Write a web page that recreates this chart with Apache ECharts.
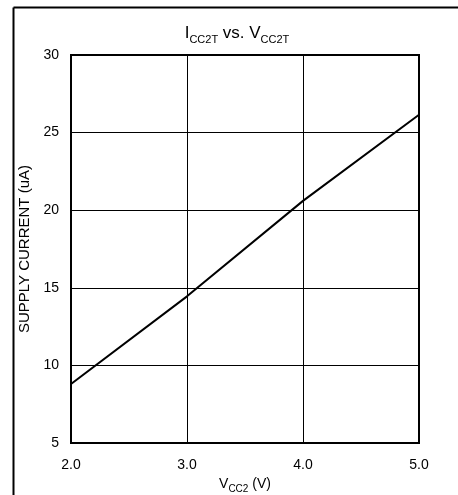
<!DOCTYPE html>
<html>
<head>
<meta charset="utf-8">
<script src="https://cdn.jsdelivr.net/npm/echarts@6/dist/echarts.min.js"></script>
<style>html,body{margin:0;padding:0;background:#fff}#c{width:458px;height:495px}</style>
</head>
<body>
<div id="c"></div>
<script>
var vcc = [2.0, 3.0, 4.0, 5.0];
var current = [8.8, 14.45, 20.6, 26.15];
var xTicks = [2.0, 3.0, 4.0, 5.0];
var yTicks = [5, 10, 15, 20, 25, 30];

var FONT = '"Liberation Sans Narrow", "Liberation Sans", Arial, sans-serif';
var chart = echarts.init(document.getElementById('c'), null, {renderer: 'canvas'});
chart.setOption({
  animation: false,
  backgroundColor: '#fff',
  title: {
    text: '{b|I}{s|CC2T}{b| vs. V}{s|CC2T}',
    left: 232, top: 19, textAlign: 'center',
    textStyle: {
      fontWeight: 'normal',
      rich: {
        b: {fontFamily: FONT, fontSize: 17, fontWeight: 'normal', color: '#000', verticalAlign: 'bottom', lineHeight: 18},
        s: {fontFamily: FONT, fontSize: 11, fontWeight: 'normal', color: '#000', verticalAlign: 'bottom', lineHeight: 14, padding: [0,0,-3,0]}
      }
    }
  },
  grid: {left: 71, top: 55, right: 39, bottom: 52, containLabel: false, outerBoundsMode: 'none'},
  xAxis: {
    type: 'value', min: xTicks[0], max: xTicks[xTicks.length-1], interval: 1,
    name: '{n|V}{s|CC2}{n| (V)}', nameLocation: 'middle', nameGap: 28,
    nameTextStyle: {rich: {
      n: {fontFamily: FONT, fontSize: 14, color: '#000', verticalAlign: 'bottom', lineHeight: 16},
      s: {fontFamily: FONT, fontSize: 10, color: '#000', verticalAlign: 'bottom', lineHeight: 13, padding: [0,0,-3,0]}
    }},
    axisLine: {show: true, lineStyle: {color: '#000', width: 2}},
    axisTick: {show: false},
    axisLabel: {fontFamily: FONT, fontSize: 14, color: '#000', margin: 15, formatter: function(v){return v.toFixed(1);}},
    splitLine: {show: true, lineStyle: {color: '#000', width: 1}}
  },
  yAxis: {
    type: 'value', min: yTicks[0], max: yTicks[yTicks.length-1], interval: 5,
    name: 'SUPPLY CURRENT (uA)', nameLocation: 'middle', nameGap: 36,
    nameTextStyle: {fontFamily: FONT, fontSize: 15, color: '#000'},
    axisLine: {show: true, lineStyle: {color: '#000', width: 2}},
    axisTick: {show: false},
    axisLabel: {fontFamily: FONT, fontSize: 14, color: '#000', margin: 12},
    splitLine: {show: true, lineStyle: {color: '#000', width: 1}}
  },
  series: [{
    type: 'line',
    data: vcc.map(function(v, i){return [v, current[i]];}),
    showSymbol: false, symbol: 'none',
    lineStyle: {color: '#000', width: 2},
    clip: true
  }]
});
var g = chart.getModel().getComponent('grid').coordinateSystem.getRect();
chart.setOption({graphic: [
  {type: 'line', shape: {x1: 13.5, y1: 7.5, x2: 458, y2: 7.5}, style: {stroke: '#000', lineWidth: 2}},
  {type: 'line', shape: {x1: 13.5, y1: 7.5, x2: 13.5, y2: 495}, style: {stroke: '#000', lineWidth: 2}},
  {type: 'rect', shape: {x: g.x, y: g.y, width: g.width, height: g.height}, style: {fill: 'none', stroke: '#000', lineWidth: 2}, z: 10}
]});
</script>
</body>
</html>
